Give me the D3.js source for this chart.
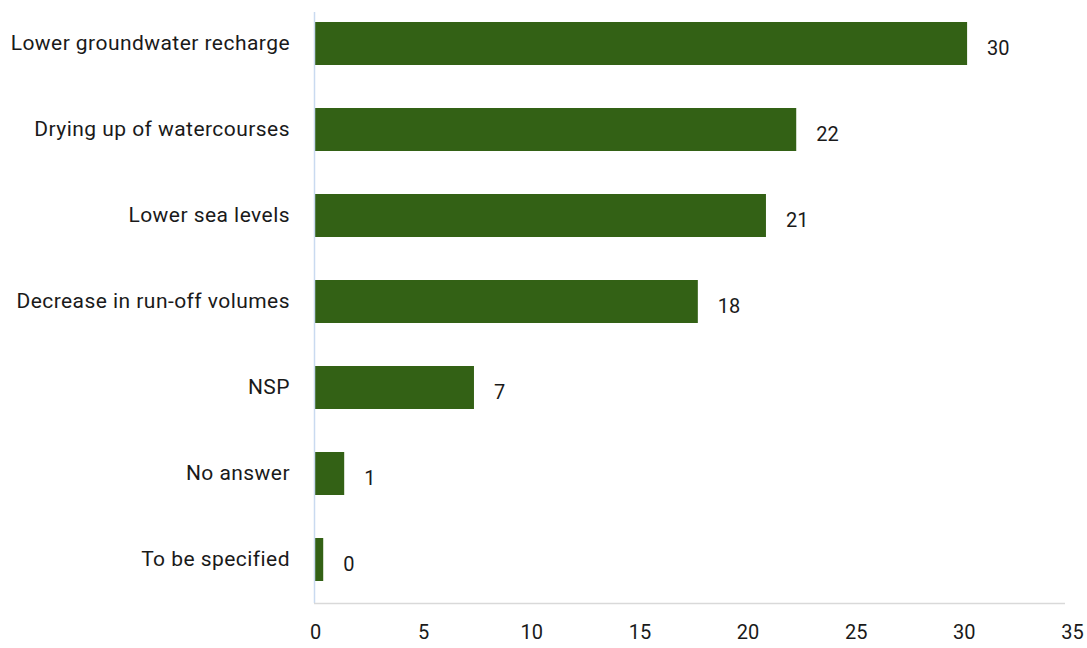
<!DOCTYPE html>
<html><head><meta charset="utf-8">
<script src="https://cdn.jsdelivr.net/npm/d3@7"></script>
<style>body{margin:0;background:#fff}text{font-family:Roboto,"Noto Sans",sans-serif}</style>
</head><body><svg id="c" width="1087" height="648"></svg>
<script>
const categories = ["Lower groundwater recharge","Drying up of watercourses","Lower sea levels","Decrease in run-off volumes","NSP","No answer","To be specified"];
const values = [30.15, 22.25, 20.85, 17.7, 7.35, 1.35, 0.38];
const valueLabels = ["30","22","21","18","7","1","0"];
const xTicks = [0,5,10,15,20,25,30,35];

const svg = d3.select("#c");
const x = d3.scaleLinear().domain([0,35]).range([315,1072]);
const y = d3.scaleBand().domain(categories).range([0.5,602.5]).paddingInner(0.5).paddingOuter(0.25);

svg.selectAll("rect.bar").data(categories).join("rect").attr("class","bar")
  .attr("x", x(0)).attr("y", d=>y(d)).attr("height", y.bandwidth())
  .attr("width", (d,i)=>x(values[i])-x(0)).attr("fill","#336115");

svg.append("line").attr("x1",314.5).attr("x2",314.5).attr("y1",12).attr("y2",603).attr("stroke","#c9daf0").attr("stroke-width",1.5);
svg.append("line").attr("x1",314).attr("x2",1065).attr("y1",603.5).attr("y2",603.5).attr("stroke","#d9d9d9").attr("stroke-width",1.5);

const xAxis = d3.axisBottom(x).tickValues(xTicks).tickSize(0).tickPadding(0);
const gx = svg.append("g").attr("transform","translate(0,625)").call(xAxis);
gx.select(".domain").remove();
gx.selectAll("text").attr("font-size",20).attr("fill","#1a1a1a").attr("dy","0.71em").style("font-family","Roboto,sans-serif");

const yAxis = d3.axisLeft(y).tickSize(0).tickPadding(0);
const gy = svg.append("g").attr("transform","translate(290,0)").call(yAxis);
gy.select(".domain").remove();
gy.selectAll("text").attr("font-size",21).attr("fill","#1a1a1a").style("letter-spacing","0.45px").style("font-family","Roboto,sans-serif");

svg.selectAll("text.val").data(categories).join("text").attr("class","val")
  .attr("x",(d,i)=>x(values[i])+20).attr("y",d=>y(d)+y.bandwidth()/2+4)
  .attr("dy","0.35em").attr("font-size",20).attr("fill","#1a1a1a")
  .text((d,i)=>valueLabels[i]);
</script></body></html>
